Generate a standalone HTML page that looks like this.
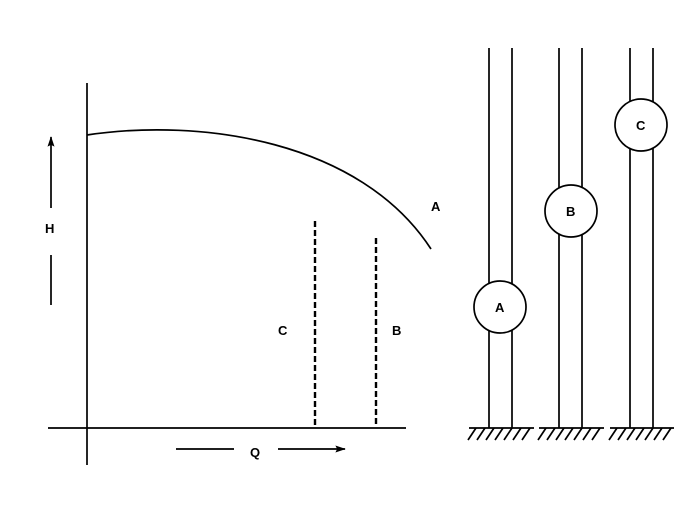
<!DOCTYPE html>
<html><head><style>body{margin:0;background:#fff}svg{display:block}text{font-family:"Liberation Sans",sans-serif;font-weight:bold;font-size:13px;fill:#000}</style></head>
<body>
<svg width="700" height="510" viewBox="0 0 700 510" xmlns="http://www.w3.org/2000/svg">
<defs><marker id="ar" viewBox="0 0 12 8" refX="11" refY="4" markerWidth="12" markerHeight="7" markerUnits="userSpaceOnUse" orient="auto"><path d="M0,0L12,4L0,8L2,4z" fill="#000"/></marker></defs>
<g stroke="#000" stroke-width="1.7" fill="none">
<line x1="87" y1="83" x2="87" y2="465"/>
<line x1="48" y1="428" x2="406" y2="428"/>
<path d="M87,135 C200,118 360,140 431,249"/>
<line x1="315" y1="221" x2="315" y2="425" stroke-dasharray="6,3" stroke-width="2.4"/>
<line x1="376" y1="238" x2="376" y2="425" stroke-dasharray="6,3" stroke-width="2.4"/>
<line x1="51" y1="305" x2="51" y2="255"/>
<line x1="51" y1="208" x2="51" y2="137" marker-end="url(#ar)"/>
<line x1="176" y1="449" x2="234" y2="449"/>
<line x1="278" y1="449" x2="345" y2="449" marker-end="url(#ar)"/>
<line x1="489" y1="48" x2="489" y2="428"/><line x1="512" y1="48" x2="512" y2="428"/>
<line x1="559" y1="48" x2="559" y2="428"/><line x1="582" y1="48" x2="582" y2="428"/>
<line x1="630" y1="48" x2="630" y2="428"/><line x1="653" y1="48" x2="653" y2="428"/>
<line x1="469" y1="428" x2="534" y2="428"/>
<line x1="539" y1="428" x2="604" y2="428"/>
<line x1="610" y1="428" x2="674" y2="428"/>
<path d="M468,440l8,-12M477,440l8,-12M486,440l8,-12M495,440l8,-12M504,440l8,-12M513,440l8,-12M522,440l8,-12"/>
<path d="M538,440l8,-12M547,440l8,-12M556,440l8,-12M565,440l8,-12M574,440l8,-12M583,440l8,-12M592,440l8,-12"/>
<path d="M609,440l8,-12M618,440l8,-12M627,440l8,-12M636,440l8,-12M645,440l8,-12M654,440l8,-12M663,440l8,-12"/>
<circle cx="500" cy="307" r="26" fill="#fff"/>
<circle cx="571" cy="211" r="26" fill="#fff"/>
<circle cx="641" cy="125" r="26" fill="#fff"/>
</g>
<text x="431" y="211">A</text>
<text x="278" y="335">C</text>
<text x="392" y="335">B</text>
<text x="45" y="233">H</text>
<text x="250" y="457">Q</text>
<text x="495" y="312">A</text>
<text x="566" y="216">B</text>
<text x="636" y="130">C</text>
</svg>
</body></html>
